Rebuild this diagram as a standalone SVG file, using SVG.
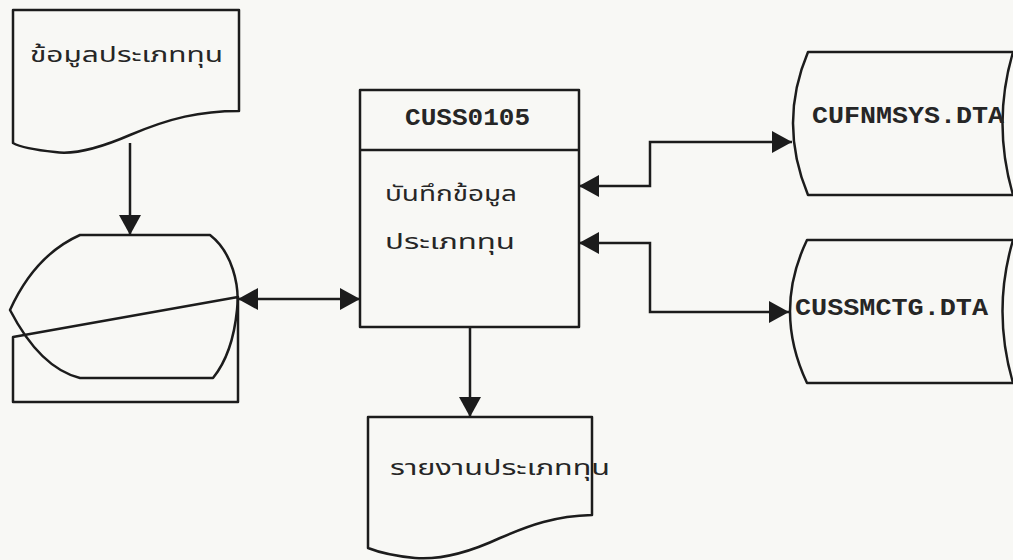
<svg xmlns="http://www.w3.org/2000/svg" width="1013" height="560" viewBox="0 0 1013 560">
<style>
.s{fill:none;stroke:#1c1c1c;stroke-width:2.5;stroke-linejoin:round}
.th{font-family:"Noto Sans Thai","Noto Sans","DejaVu Sans",sans-serif;font-size:21px;fill:#262626}
.mono{font-family:"Liberation Mono","Courier New",monospace;font-size:24px;font-weight:bold;fill:#262626}
.c{fill:none;stroke:#1c1c1c;stroke-width:2.5}
</style>
<defs>
<marker id="ah" viewBox="0 0 20 22" refX="20" refY="11" markerWidth="20" markerHeight="22" markerUnits="userSpaceOnUse" orient="auto-start-reverse">
<path d="M0,0 L20,11 L0,22 Z" fill="#1c1c1c"/>
</marker>
</defs>
<rect width="1013" height="560" fill="#f8f8f5"/>
<g id="doc-input">
<path class="s" d="M13,10 H239 V111 C200,111 170,118 130,135 C100,148 75,155 55,152 C35,150 20,147 13,143 Z"/>
<text class="th" x="30" y="62" textLength="193" lengthAdjust="spacingAndGlyphs">ข้อมูลประเภททุน</text>
</g>
<g id="manual-input">
<path class="s" d="M13,337 L238,297 V402 H13 Z"/>
</g>
<g id="display">
<path class="s" d="M80,235 H210 C232,252 240,285 237,310 C234,340 226,362 213,378 H80 Q40,368 10,310 Q35,255 80,235 Z"/>
</g>
<g id="process">
<rect class="s" x="360" y="90" width="219" height="237"/>
<line class="s" x1="360" y1="150" x2="579" y2="150"/>
<text class="mono" x="405" y="125" textLength="125" lengthAdjust="spacingAndGlyphs">CUSS0105</text>
<text class="th" x="385" y="201" textLength="132" lengthAdjust="spacingAndGlyphs">บันทึกข้อมูล</text>
<text class="th" x="385" y="249" textLength="130" lengthAdjust="spacingAndGlyphs">ประเภททุน</text>
</g>
<g id="store-cufnmsys">
<path class="s" d="M808,52 H1013 Q992,123 1013,195 H808 Q778,123 808,52 Z"/>
<text class="mono" x="812" y="123" textLength="192" lengthAdjust="spacingAndGlyphs">CUFNMSYS.DTA</text>
</g>
<g id="store-cussmctg">
<path class="s" d="M807,240 H1013 Q992,311 1013,383 H807 Q773,311 807,240 Z"/>
<text class="mono" x="795" y="315" textLength="193" lengthAdjust="spacingAndGlyphs">CUSSMCTG.DTA</text>
</g>
<g id="doc-report">
<path class="s" d="M368,417 H592 V515 C555,516 530,525 500,538 C470,552 440,560 415,558 C395,556 378,552 368,548 Z"/>
<text class="th" x="390" y="475" textLength="220" lengthAdjust="spacingAndGlyphs">รายงานประเภททุน</text>
</g>
<g id="connectors">
<path class="c" d="M130,143 V235" marker-end="url(#ah)"/>
<path class="c" d="M238,299 H360" marker-start="url(#ah)" marker-end="url(#ah)"/>
<path class="c" d="M579,186 H650 V142 H792" marker-start="url(#ah)" marker-end="url(#ah)"/>
<path class="c" d="M579,243 H650 V312 H789" marker-start="url(#ah)" marker-end="url(#ah)"/>
<path class="c" d="M470,327 V417" marker-end="url(#ah)"/>
</g>
</svg>
